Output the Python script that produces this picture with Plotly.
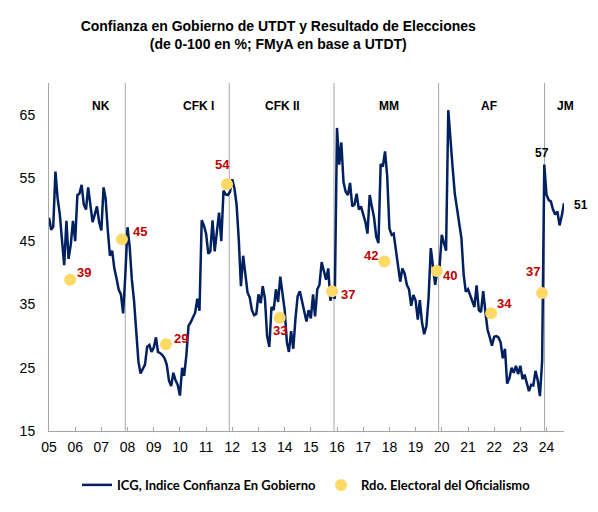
import pandas as pd
import plotly.graph_objects as go

# ---------------------------------------------------------------------------
# Data
# ---------------------------------------------------------------------------

# ICG, monthly from Jan 2005 (one row per year)
icg_values = [
    48.7, 46.8, 47.3, 56.0, 51.8, 49.2, 45.2, 41.2, 48.2, 42.2, 44.5, 48.2,  # 05
    45.0, 52.3, 52.5, 53.9, 50.8, 50.0, 53.5, 50.8, 48.0, 49.2, 50.5, 48.0,  # 06
    46.7, 53.5, 51.8, 46.7, 42.7, 43.5, 40.7, 39.1, 37.3, 36.6, 33.6, 39.5,  # 07
    47.2, 44.0, 39.0, 35.6, 30.5, 26.0, 24.1, 24.8, 25.5, 28.3, 28.6, 27.5,  # 08
    28.2, 29.8, 27.5, 27.3, 27.0, 26.5, 25.5, 23.0, 22.1, 24.2, 23.0, 22.3,  # 09
    20.6, 25.0, 23.7, 27.0, 31.6, 32.2, 33.1, 33.7, 35.9, 34.0, 48.3, 47.5,  # 10
    46.2, 43.0, 43.4, 48.3, 43.4, 46.5, 49.5, 45.0, 53.0, 52.4, 52.3, 52.8,  # 11
    54.8, 53.3, 50.8, 45.2, 37.9, 42.7, 39.9, 36.9, 36.1, 34.1, 33.3, 33.5,  # 12
    36.6, 35.2, 37.9, 35.9, 30.0, 28.3, 34.6, 34.1, 37.4, 35.4, 39.4, 37.0,  # 13
    34.1, 29.0, 27.5, 30.8, 28.0, 32.8, 36.3, 37.1, 35.5, 33.6, 32.3, 34.1,  # 14
    32.8, 36.6, 33.1, 37.4, 38.1, 41.7, 40.2, 38.9, 40.7, 35.6, 36.9, 35.9,  # 15
    62.9, 57.1, 60.6, 54.3, 52.8, 52.3, 54.2, 50.5, 50.8, 52.5, 50.0, 50.5,  # 16
    49.2, 48.0, 46.2, 52.3, 50.5, 48.7, 45.7, 44.7, 57.2, 56.8, 59.2, 55.3,  # 17
    47.0, 46.0, 46.2, 43.5, 41.2, 38.6, 40.7, 39.9, 38.1, 37.4, 34.8, 36.5,  # 18
    35.6, 32.6, 35.7, 32.1, 30.3, 31.6, 36.0, 43.9, 41.0, 38.1, 40.4, 40.8,  # 19
    46.0, 44.5, 43.5, 65.7, 60.4, 56.6, 52.5, 50.3, 48.2, 45.5, 39.8, 37.0,  # 20
    37.4, 36.4, 35.6, 34.6, 38.0, 34.1, 33.8, 37.1, 33.8, 31.0, 29.8, 28.5,  # 21
    29.9, 30.0, 29.8, 29.0, 26.5, 28.0, 22.5, 23.3, 25.0, 24.2, 25.3, 24.0,  # 22
    25.3, 23.2, 23.9, 22.5, 21.3, 22.3, 22.2, 24.5, 23.0, 20.5, 26.0, 57.1,  # 23
    52.3, 51.5, 51.3, 50.0, 49.2, 49.7, 47.5, 49.0, 51.0,                    # 24
]
icg_dates = pd.date_range("2005-01-01", periods=len(icg_values), freq="MS")

# Rdo. electoral del oficialismo
election_dates = ["2005-10-23", "2007-10-15", "2009-06-20", "2011-10-20", "2013-10-23",
                  "2015-10-25", "2017-10-22", "2019-10-24", "2021-11-20", "2023-10-30"]
election_values = [38.9, 45.3, 28.7, 54.0, 32.9, 37.1, 41.8, 40.3, 33.6, 36.8]

# Gobiernos
period_names = ["NK", "CFK I", "CFK II", "MM", "AF", "JM"]
period_label_dates = ["2006-07-27", "2010-01-12", "2013-12-06", "2017-12-25", "2022-03-03", "2025-02-17"]
change_dates = ["2007-12-01", "2011-11-20", "2015-11-20", "2019-11-18", "2023-12-05"]

# ---------------------------------------------------------------------------
# Styling
# ---------------------------------------------------------------------------

NAVY = "#002060"
YELLOW = "#FFD966"
RED = "#C00000"
GREY = "#A6A6A6"
FONT = "Liberation Sans, Arial, sans-serif"

# label offsets (px) for each election value label
label_dx = [14, 18, 15, -5, 0, 16, -13, 13, 13, -9]
label_dy = [7, 8, 6, 20, -13, -3, 6, -5, 10, 22]

fig = go.Figure()

fig.add_trace(go.Scatter(
    x=icg_dates, y=icg_values,
    mode="lines",
    name="ICG, Indice Confianza En Gobierno",
    line=dict(color=NAVY, width=2.5),
))

fig.add_trace(go.Scatter(
    x=election_dates, y=election_values,
    mode="markers",
    name="Rdo. Electoral del Oficialismo",
    marker=dict(color=YELLOW, size=12),
))

# election value labels
for d, v, dx, dy in zip(election_dates, election_values, label_dx, label_dy):
    fig.add_annotation(x=d, y=v, text=f"<b>{v:.0f}</b>", showarrow=False,
                       xshift=dx, yshift=dy,
                       font=dict(family=FONT, size=13, color=RED))

# ICG labels: Milei peak and last value
last_i = len(icg_values) - 1
peak_i = max(range(last_i - 11, last_i + 1), key=lambda i: icg_values[i])
fig.add_annotation(x=icg_dates[peak_i], y=icg_values[peak_i], text=f"<b>{icg_values[peak_i]:.0f}</b>",
                   showarrow=False, xshift=-2, yshift=12,
                   font=dict(family=FONT, size=12, color="black"))
fig.add_annotation(x=icg_dates[last_i], y=icg_values[last_i], text=f"<b>{icg_values[last_i]:.0f}</b>",
                   showarrow=False, xshift=17, yshift=-2,
                   font=dict(family=FONT, size=12, color="black"))

# government change separators
for d in change_dates:
    fig.add_shape(type="line", x0=d, x1=d, y0=0, y1=1, xref="x", yref="paper",
                  line=dict(color=GREY, width=1), layer="below")

# period names (JM sits past the end of the axis, so place them in paper units)
x_start, x_end = icg_dates[0], icg_dates[-1]
for name, d in zip(period_names, period_label_dates):
    frac = (pd.Timestamp(d) - x_start) / (x_end - x_start)
    fig.add_annotation(x=frac, xref="paper", y=0.96, yref="paper", text=f"<b>{name}</b>",
                       showarrow=False, font=dict(family=FONT, size=12, color="black"))

# page body adds an 8px margin, so the figure is 8px smaller than the window
fig.update_layout(
    width=590, height=504,
    title=dict(
        text="<b>Confianza en Gobierno de UTDT y Resultado de Elecciones<br>(de 0-100 en %; FMyA en base a UTDT)</b>",
        font=dict(family=FONT, size=14, color="black"),
        x=0.458, xanchor="center", y=0.955, yanchor="middle",
    ),
    paper_bgcolor="white", plot_bgcolor="white",
    margin=dict(l=35, r=34, t=75, b=66),
    showlegend=True,
    legend=dict(
        orientation="h", x=0.5, xanchor="center", y=-0.155, yanchor="middle",
        font=dict(family="Lato, sans-serif", size=13, color="black", weight="bold"),
        itemwidth=30, tracegroupgap=0,
    ),
    font=dict(family=FONT, color="black"),
)

fig.update_xaxes(
    type="date", range=[x_start, x_end],
    tickformat="%y", dtick="M12", tick0="2005-01-01",
    ticks="inside", ticklen=4, tickcolor=GREY,
    showline=True, linecolor=GREY, linewidth=1,
    showgrid=False, zeroline=False, ticklabelstandoff=3,
    tickfont=dict(family=FONT, size=14, color="black"),
)
fig.update_yaxes(
    range=[15, 70], tickvals=[15, 25, 35, 45, 55, 65],
    ticks="", showline=True, linecolor=GREY, linewidth=1,
    showgrid=False, zeroline=False, ticklabelstandoff=10,
    tickfont=dict(family=FONT, size=14, color="black"),
)

fig.write_html("out.html")
